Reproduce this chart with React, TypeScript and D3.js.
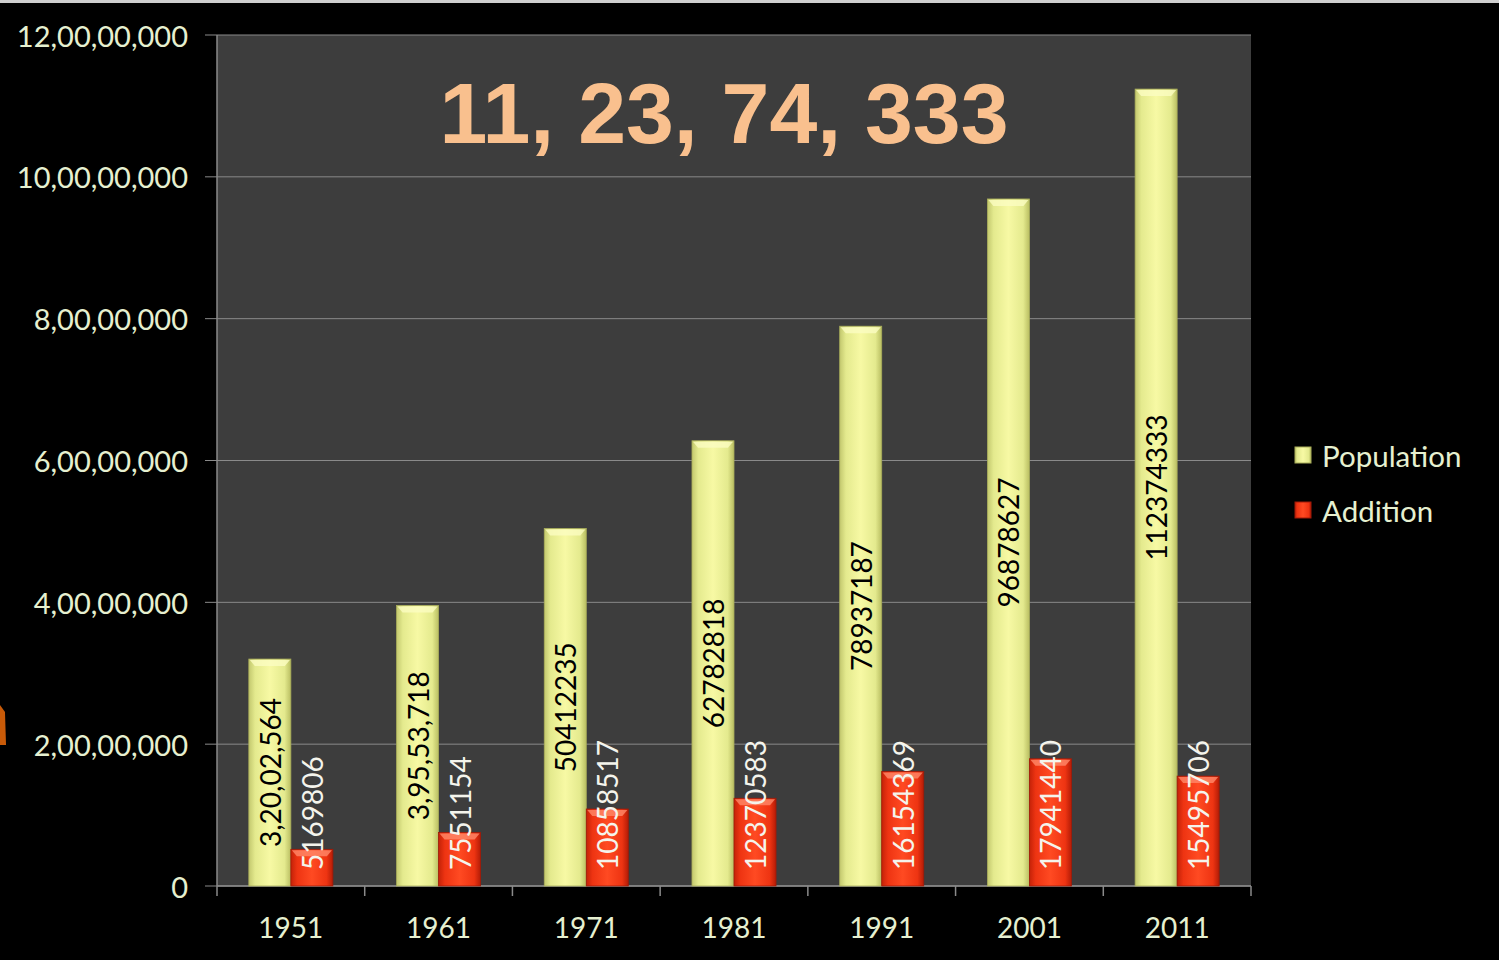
import React from 'react';
import * as d3 from 'd3';

const years = ['1951', '1961', '1971', '1981', '1991', '2001', '2011'];
const population = [32002564, 39553718, 50412235, 62782818, 78937187, 96878627, 112374333];
const addition = [5169806, 7551154, 10858517, 12370583, 16154369, 17941440, 15495706];
const popLabels = ['3,20,02,564', '3,95,53,718', '50412235', '62782818', '78937187', '96878627', '112374333'];
const yTicks = [0, 20000000, 40000000, 60000000, 80000000, 100000000, 120000000];
const series = ['Population', 'Addition'];
const headline = '11, 23, 74, 333';

const W = 1499;
const H = 960;
const margin = { top: 35, right: 248, bottom: 74, left: 217 };

// Indian digit grouping: 12,00,00,000
const indian = (n: number) => {
  const s = String(Math.round(n));
  if (s.length <= 3) return s;
  const last = s.slice(-3);
  let rest = s.slice(0, -3);
  const parts: string[] = [];
  while (rest.length > 2) {
    parts.unshift(rest.slice(-2));
    rest = rest.slice(0, -2);
  }
  if (rest) parts.unshift(rest);
  return parts.join(',') + ',' + last;
};

const App = () => {
  const innerW = W - margin.left - margin.right;
  const innerH = H - margin.top - margin.bottom;
  const x0 = margin.left;
  const y0 = margin.top;

  const x = d3.scaleBand<string>()
    .domain(years)
    .range([x0, x0 + innerW])
    .paddingInner(0.431)
    .paddingOuter(0.2155);

  const x1 = d3.scaleBand<string>()
    .domain(series)
    .range([0, x.bandwidth()]);

  const y = d3.scaleLinear()
    .domain([0, 120000000])
    .range([y0 + innerH, y0]);

  const base = y(0);
  const font = 'Lato, "Open Sans", sans-serif';
  const axisText = '#e6f0d0';
  const lineCol = '#8a8a8a';

  const bar = (key: string, cx: number, v: number, s: string) => {
    const bx = cx + (x1(s) as number);
    const bw = x1.bandwidth();
    const top = y(v);
    const h = base - top;
    const fill = s === 'Population' ? 'url(#gPop)' : 'url(#gAdd)';
    const bevel = s === 'Population' ? '#fbfdc2' : '#ff8a6a';
    const edge = s === 'Population' ? '#a9ad5a' : '#a11a08';
    return (
      <g key={key}>
        <rect x={bx} y={top} width={bw} height={h} fill={fill} stroke={edge} strokeWidth={0.8} />
        <polygon
          points={`${bx + 1},${top + 1} ${bx + bw - 1},${top + 1} ${bx + bw - 6},${top + 7} ${bx + 6},${top + 7}`}
          fill={bevel}
          opacity={0.8}
        />
      </g>
    );
  };

  return (
    <div style={{ position: 'fixed', left: 0, top: 0, width: W, height: H, background: '#000' }}>
      <svg width={W} height={H} style={{ display: 'block' }}>
        <defs>
          <linearGradient id="gPop" x1="0" x2="1" y1="0" y2="0">
            <stop offset="0" stopColor="#c3c86e" />
            <stop offset="0.15" stopColor="#e4ea8e" />
            <stop offset="0.5" stopColor="#f7f9a4" />
            <stop offset="0.85" stopColor="#e4ea8e" />
            <stop offset="1" stopColor="#b9be62" />
          </linearGradient>
          <linearGradient id="gAdd" x1="0" x2="1" y1="0" y2="0">
            <stop offset="0" stopColor="#c42208" />
            <stop offset="0.15" stopColor="#ee3412" />
            <stop offset="0.5" stopColor="#ff4a22" />
            <stop offset="0.85" stopColor="#ee3412" />
            <stop offset="1" stopColor="#b41c06" />
          </linearGradient>
        </defs>
        <rect x={0} y={0} width={W} height={H} fill="#000" />
        <rect x={0} y={0} width={W} height={3} fill="#cfcfcf" />
        <path d="M0,705 L5,712 L6,745 L0,745 Z" fill="#c85a08" />

        {/* plot area */}
        <rect x={x0} y={y0} width={innerW} height={innerH} fill="#3d3d3d" />
        {yTicks.map(t => (
          <g key={'yt' + t}>
            <line x1={x0 - 12} x2={x0 + innerW} y1={y(t)} y2={y(t)} stroke={lineCol} strokeWidth={1} />
            <text
              x={188}
              y={y(t)}
              textAnchor="end"
              dominantBaseline="central"
              fontFamily={font}
              fontSize={29}
              fill={axisText}
            >
              {indian(t)}
            </text>
          </g>
        ))}
        <line x1={x0} x2={x0} y1={y0} y2={base} stroke={lineCol} strokeWidth={1.5} />
        <line x1={x0} x2={x0 + innerW} y1={base} y2={base} stroke={lineCol} strokeWidth={1.5} />
        {d3.range(years.length + 1).map(i => (
          <line
            key={'xt' + i}
            x1={x0 + i * x.step()}
            x2={x0 + i * x.step()}
            y1={base}
            y2={base + 10}
            stroke={lineCol}
            strokeWidth={1.5}
          />
        ))}
        {years.map(yr => (
          <text
            key={'xl' + yr}
            x={(x(yr) as number) + x.bandwidth() / 2}
            y={927}
            textAnchor="middle"
            dominantBaseline="central"
            fontFamily={font}
            fontSize={28}
            fill={axisText}
          >
            {yr}
          </text>
        ))}

        {/* bars */}
        {years.map((yr, i) => (
          <g key={'b' + yr}>
            {bar('p' + yr, x(yr) as number, population[i], 'Population')}
            {bar('a' + yr, x(yr) as number, addition[i], 'Addition')}
          </g>
        ))}

        {/* data labels */}
        {years.map((yr, i) => {
          const px = (x(yr) as number) + (x1('Population') as number) + x1.bandwidth() / 2;
          const py = (y(population[i]) + base) / 2;
          const ax = (x(yr) as number) + (x1('Addition') as number) + x1.bandwidth() / 2;
          const ay = base - 16;
          return (
            <g key={'l' + yr}>
              <text
                transform={`translate(${px},${py}) rotate(-90)`}
                textAnchor="middle"
                dominantBaseline="central"
                fontFamily={font}
                fontSize={28}
                fill="#000"
              >
                {popLabels[i]}
              </text>
              <text
                transform={`translate(${ax},${ay}) rotate(-90)`}
                textAnchor="start"
                dominantBaseline="central"
                fontFamily={font}
                fontSize={28}
                fill="#f4f4ec"
              >
                {String(addition[i])}
              </text>
            </g>
          );
        })}

        {/* headline */}
        <text
          x={724}
          y={143}
          textAnchor="middle"
          fontFamily='"Liberation Sans", Arial, sans-serif'
          fontWeight="bold"
          fontSize={86}
          fill="#f9c08e"
        >
          {headline}
        </text>

        {/* legend */}
        {series.map((s, i) => (
          <g key={'lg' + s} transform={`translate(1295,${455 + i * 55})`}>
            <rect x={0} y={-8} width={16} height={16} fill={s === 'Population' ? 'url(#gPop)' : 'url(#gAdd)'} stroke={s === 'Population' ? '#a9ad5a' : '#a11a08'} />
            <text x={27} y={0} dominantBaseline="central" fontFamily={font} fontSize={29.5} fill={axisText}>
              {s}
            </text>
          </g>
        ))}
      </svg>
    </div>
  );
};

export default App;
